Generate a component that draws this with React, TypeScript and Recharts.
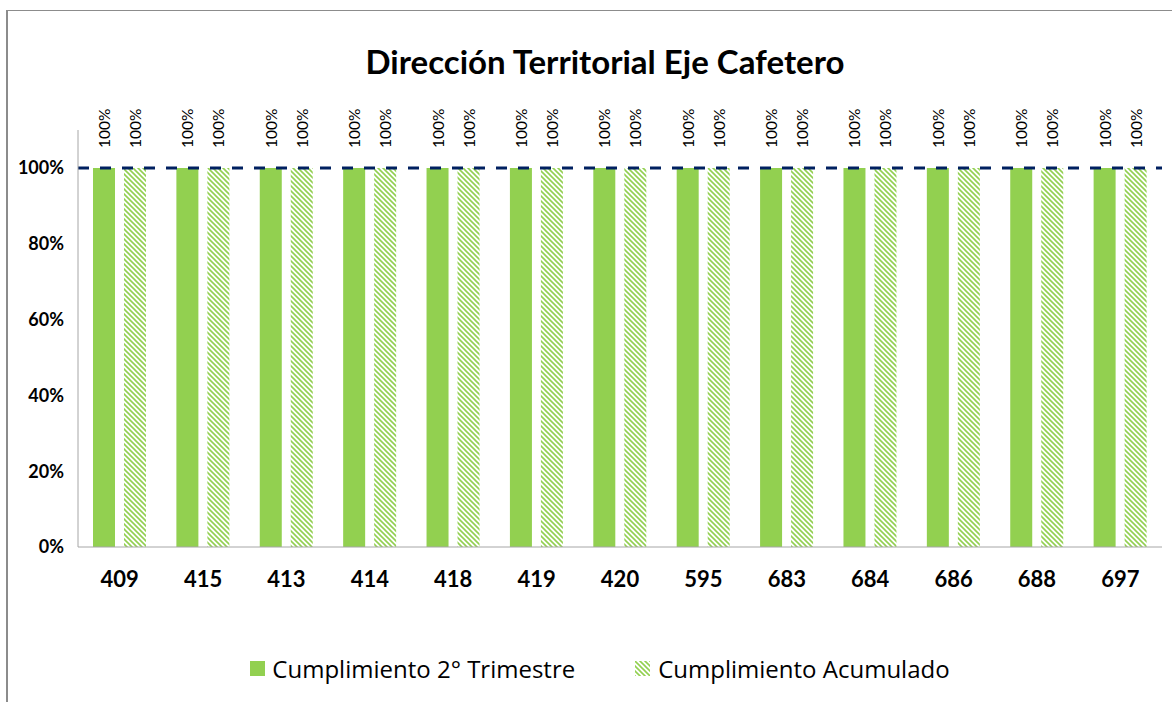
import {
  BarChart,
  Bar,
  XAxis,
  YAxis,
  ReferenceLine,
  LabelList,
  Legend,
} from "recharts";

// ----- Data -----
const codes = ["409", "415", "413", "414", "418", "419", "420", "595", "683", "684", "686", "688", "697"];
const trimestre = [1, 1, 1, 1, 1, 1, 1, 1, 1, 1, 1, 1, 1];
const acumulado = [1, 1, 1, 1, 1, 1, 1, 1, 1, 1, 1, 1, 1];
const yTicks = [0, 0.2, 0.4, 0.6, 0.8, 1];
const meta = 1;

const rows = codes.map((code, i) => ({
  code,
  trimestre: trimestre[i],
  acumulado: acumulado[i],
}));

const GREEN = "#92D050";
const NAVY = "#002060";
const FONT = "Lato, 'Open Sans', sans-serif";
const LEGEND_FONT = "'Open Sans', Lato, sans-serif";

const pct = (v: number) => `${Math.round(v * 100)}%`;

// rotated value label above each bar
function VerticalLabel(props: any) {
  const { x, y, width, value } = props;
  const cx = x + width / 2;
  const cy = y - 20;
  return (
    <text
      x={cx}
      y={cy}
      transform={`rotate(-90, ${cx}, ${cy})`}
      textAnchor="start"
      dominantBaseline="central"
      fontSize={15.5}
      fontFamily={FONT}
      fill="#000"
    >
      {pct(value)}
    </text>
  );
}

function LegendBox() {
  const item = { display: "inline-flex", alignItems: "center", margin: "0 30px" };
  return (
    <div
      style={{
        height: 40,
        paddingLeft: 38,
        display: "flex",
        justifyContent: "center",
        alignItems: "center",
        fontFamily: LEGEND_FONT,
        fontSize: 24,
        color: "#000",
      }}
    >
      <span style={item}>
        <svg width={15} height={15} style={{ marginRight: 7 }}>
          <rect width={15} height={15} fill={GREEN} />
        </svg>
        Cumplimiento 2° Trimestre
      </span>
      <span style={item}>
        <svg width={15} height={15} style={{ marginRight: 8 }}>
          <defs>
            <pattern id="hatchLegend" width="5" height="5" patternUnits="userSpaceOnUse">
              <path d="M-1,-1 L6,6 M-1,4 L1,6 M4,-1 L6,1" stroke={GREEN} strokeWidth={1.6} />
            </pattern>
          </defs>
          <rect width={15} height={15} fill="url(#hatchLegend)" />
        </svg>
        Cumplimiento Acumulado
      </span>
    </div>
  );
}

export default function App() {
  return (
    <div
      style={{
        position: "fixed",
        top: 0,
        left: 0,
        width: 1172,
        height: 702,
        overflow: "hidden",
        background: "#fff",
      }}
    >
      {/* outer chart frame */}
      <div
        style={{
          position: "absolute",
          left: 6,
          top: 10,
          width: 1300,
          height: 900,
          border: "1px solid #8c8c8c",
          borderLeftWidth: 2,
        }}
      />
      <div
        style={{
          position: "absolute",
          top: 38,
          left: 0,
          width: 1210,
          textAlign: "center",
          fontFamily: FONT,
          fontWeight: 700,
          fontSize: 33,
          lineHeight: "46px",
          color: "#000",
        }}
      >
        Dirección Territorial Eje Cafetero
      </div>
      <div style={{ position: "absolute", top: 0, left: 0 }}>
        <BarChart
          width={1172}
          height={702}
          data={rows}
          margin={{ top: 130, right: 10, left: 0, bottom: 14 }}
          barSize={22}
          barGap={9}
        >
          <defs>
            <pattern id="hatch" width="5" height="5" patternUnits="userSpaceOnUse">
              <path d="M-1,-1 L6,6 M-1,4 L1,6 M4,-1 L6,1" stroke={GREEN} strokeWidth={1.6} />
            </pattern>
          </defs>
          <XAxis
            dataKey="code"
            height={101}
            tickLine={false}
            axisLine={{ stroke: "#a6a6a6" }}
            tickMargin={18}
            tick={{ fill: "#000", fontSize: 22, fontWeight: 700, fontFamily: FONT }}
          />
          <YAxis
            width={78}
            domain={[0, 1.1]}
            ticks={yTicks}
            tickFormatter={pct}
            tickLine={false}
            axisLine={{ stroke: "#a6a6a6" }}
            tickMargin={8}
            tick={{ fill: "#000", fontSize: 18, fontWeight: 700, fontFamily: FONT }}
          />
          <Legend verticalAlign="bottom" content={() => <LegendBox />} />
          <Bar dataKey="trimestre" name="Cumplimiento 2° Trimestre" fill={GREEN} isAnimationActive={false}>
            <LabelList dataKey="trimestre" content={VerticalLabel} />
          </Bar>
          <Bar dataKey="acumulado" name="Cumplimiento Acumulado" fill="url(#hatch)" isAnimationActive={false}>
            <LabelList dataKey="acumulado" content={VerticalLabel} />
          </Bar>
          <ReferenceLine
            y={meta}
            stroke={NAVY}
            strokeWidth={3}
            strokeDasharray="11 11"
            ifOverflow="extendDomain"
          />
        </BarChart>
      </div>
    </div>
  );
}
